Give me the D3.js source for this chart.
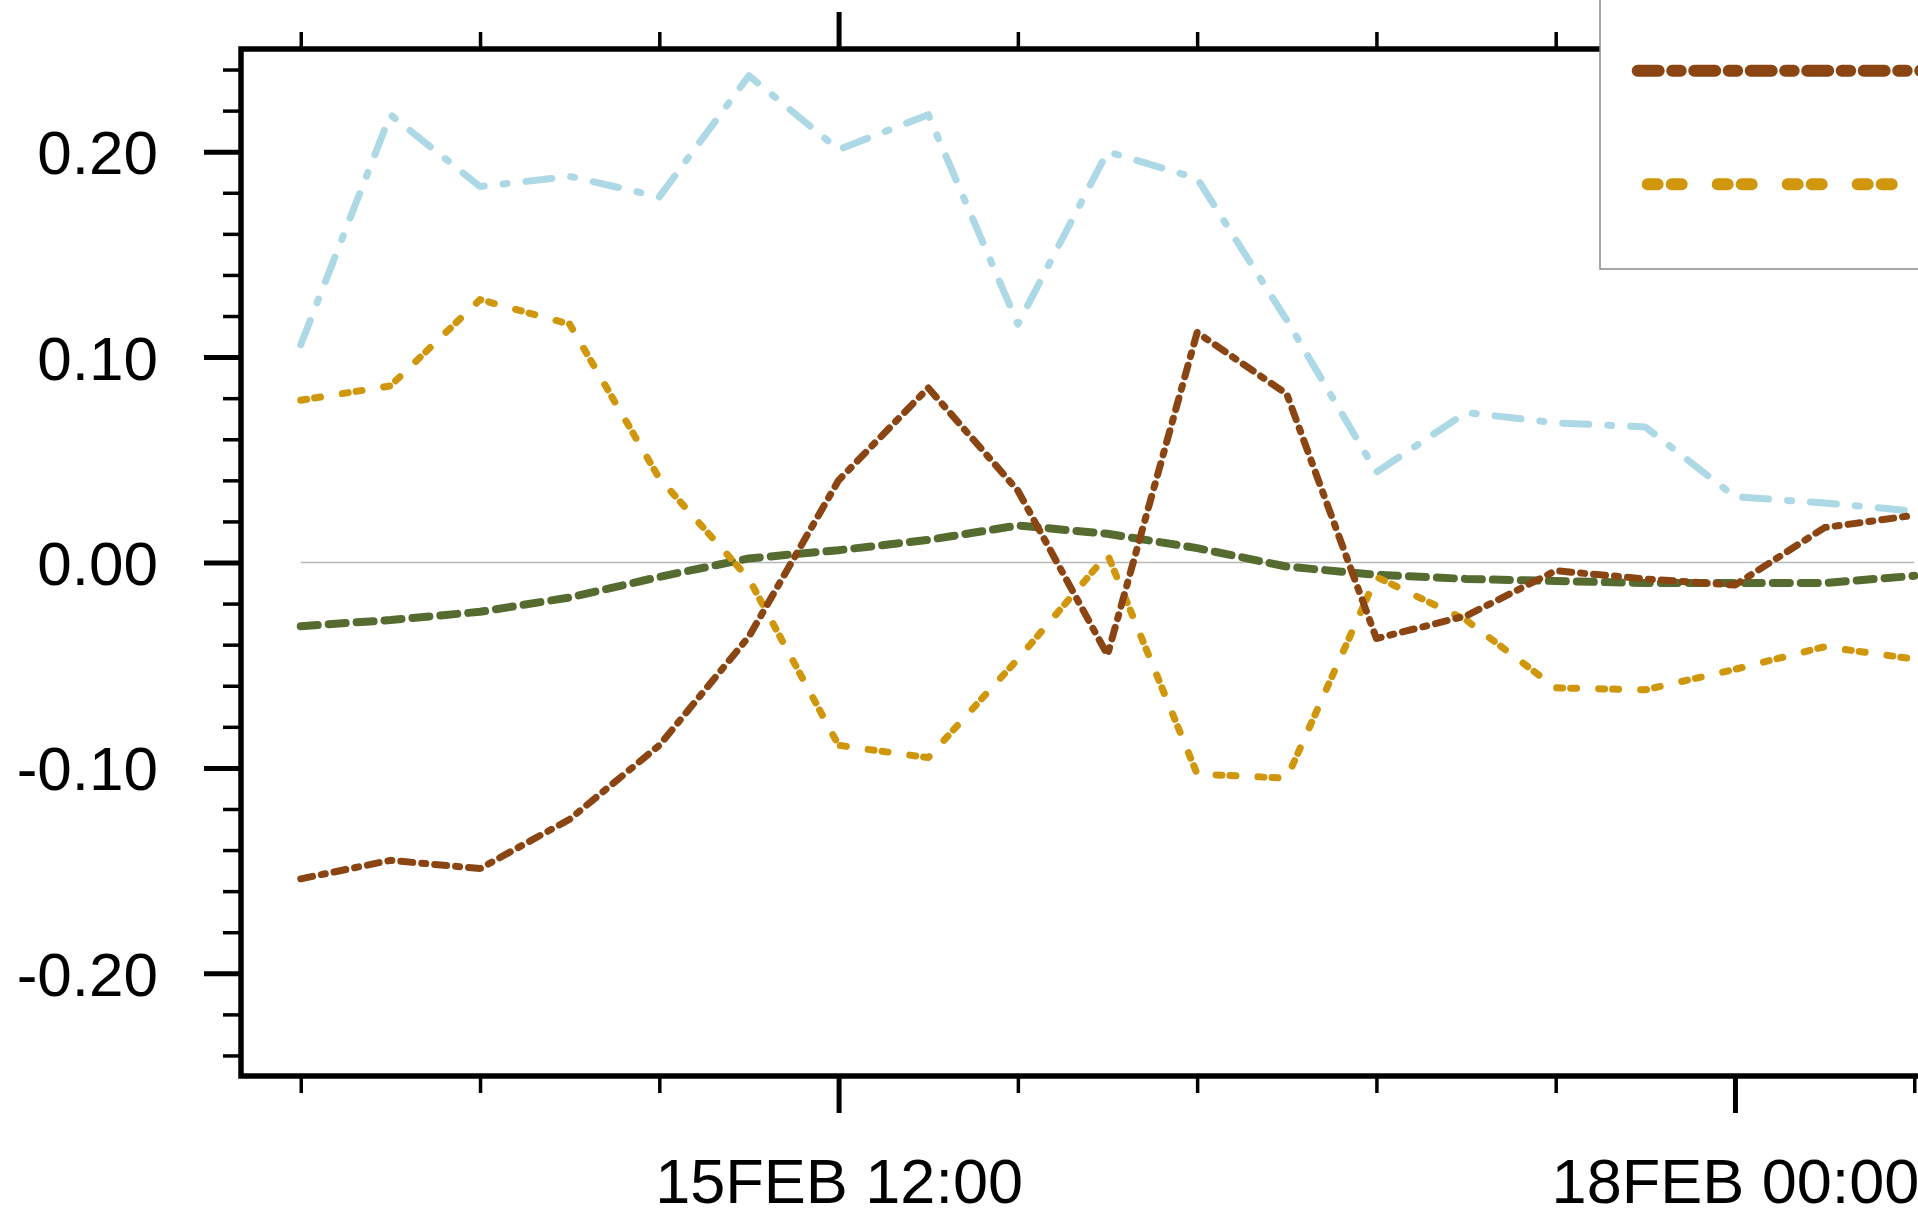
<!DOCTYPE html>
<html><head><meta charset="utf-8">
<script src="https://cdn.jsdelivr.net/npm/d3@7"></script>
<style>html,body{margin:0;padding:0;background:#fff;overflow:hidden}svg{display:block}</style>
</head><body><svg id="chart" width="1918" height="1215"></svg>
<script>
// ---- data ----
const times = [
  "2000-02-14T00:00Z","2000-02-14T06:00Z","2000-02-14T12:00Z","2000-02-14T18:00Z",
  "2000-02-15T00:00Z","2000-02-15T06:00Z","2000-02-15T12:00Z","2000-02-15T18:00Z",
  "2000-02-16T00:00Z","2000-02-16T06:00Z","2000-02-16T12:00Z","2000-02-16T18:00Z",
  "2000-02-17T00:00Z","2000-02-17T06:00Z","2000-02-17T12:00Z","2000-02-17T18:00Z",
  "2000-02-18T00:00Z","2000-02-18T06:00Z","2000-02-18T12:00Z"
];
const seriesBlue  = [0.106,0.218,0.183,0.188,0.178,0.237,0.201,0.218,0.116,0.200,0.187,0.118,0.044,0.073,0.068,0.066,0.032,0.029,0.025];
const seriesGreen = [-0.031,-0.028,-0.024,-0.017,-0.007,0.002,0.006,0.011,0.018,0.014,0.007,-0.002,-0.006,-0.008,-0.009,-0.010,-0.010,-0.010,-0.0065];
const seriesGold  = [0.079,0.086,0.128,0.116,0.041,-0.008,-0.089,-0.095,-0.047,0.004,-0.103,-0.105,-0.007,-0.028,-0.061,-0.062,-0.052,-0.041,-0.047];
const seriesBrown = [-0.154,-0.145,-0.149,-0.125,-0.089,-0.036,0.040,0.085,0.035,-0.045,0.112,0.082,-0.037,-0.026,-0.004,-0.008,-0.011,0.017,0.023];

const yMajorTicks = [-0.2,-0.1,0,0.1,0.2];
const yTickLabels = ["-0.20","-0.10","0.00","0.10","0.20"];
const yMinorTicks = [-0.24,-0.22,-0.18,-0.16,-0.14,-0.12,-0.08,-0.06,-0.04,-0.02,0.02,0.04,0.06,0.08,0.12,0.14,0.16,0.18,0.22,0.24];
const xMajorTicks = ["2000-02-15T12:00Z","2000-02-18T00:00Z"];
const xTickLabels = ["15FEB 12:00","18FEB 00:00"];
const xMinorTicks = ["2000-02-14T00:00Z","2000-02-14T12:00Z","2000-02-15T00:00Z","2000-02-16T00:00Z",
  "2000-02-16T12:00Z","2000-02-17T00:00Z","2000-02-17T12:00Z","2000-02-18T12:00Z"];
const xDomain = ["2000-02-13T20:00Z","2000-02-18T16:00Z"];
const yDomain = [-0.25,0.25];

// ---- chart ----
const svg = d3.select("#chart");
const L = 241, T = 49, R = 1974, B = 1076;
const x = d3.scaleUtc().domain(xDomain.map(d=>new Date(d))).range([L,R]);
const y = d3.scaleLinear().domain(yDomain).range([B,T]);
const tDates = times.map(d=>new Date(d));
const FONT = "'Liberation Sans', Arial, Helvetica, sans-serif";

// zero reference line
svg.append("line")
  .attr("x1", x(tDates[0])).attr("x2", x(tDates[tDates.length-1]))
  .attr("y1", y(0)).attr("y2", y(0))
  .attr("stroke","#b8b8b8").attr("stroke-width",1.6);

// series
const series = [
  {v: seriesBlue,  color:"#ADD8E6", w:7, dash:"26,19,4,19"},
  {v: seriesGreen, color:"#556B2F", w:8, dash:"17,11"},
  {v: seriesGold,  color:"#D0960C", w:7, dash:"6,8,6,22"},
  {v: seriesBrown, color:"#8B4513", w:7, dash:"12,9,4,9"}
];
const line = d3.line().x((d,i)=>x(tDates[i])).y(d=>y(d));
series.forEach(s=>{
  svg.append("path").datum(s.v).attr("d", line)
    .attr("fill","none").attr("stroke", s.color).attr("stroke-width", s.w)
    .attr("stroke-dasharray", s.dash).attr("stroke-linecap","round").attr("stroke-linejoin","round");
});

// axes
function styleAxis(g, tw){
  g.select(".domain").remove();
  g.selectAll(".tick line").attr("stroke","#000").attr("stroke-width", tw);
  g.selectAll(".tick text").attr("fill","#000").style("font-family", FONT).style("font-size","62px");
}
const gyMinor = svg.append("g").attr("transform",`translate(${L},0)`)
  .call(d3.axisLeft(y).tickValues(yMinorTicks).tickSize(18).tickFormat(""));
styleAxis(gyMinor, 3.5);
const gyMajor = svg.append("g").attr("transform",`translate(${L},0)`)
  .call(d3.axisLeft(y).tickValues(yMajorTicks).tickSize(37).tickPadding(46)
    .tickFormat((d,i)=>yTickLabels[i]));
styleAxis(gyMajor, 5);
gyMajor.selectAll(".tick text").attr("dy","0.355em");

const xMin = xMinorTicks.map(d=>new Date(d));
const xMaj = xMajorTicks.map(d=>new Date(d));
const gxMinor = svg.append("g").attr("transform",`translate(0,${B})`)
  .call(d3.axisBottom(x).tickValues(xMin).tickSize(17).tickFormat(""));
styleAxis(gxMinor, 3.5);
const gxMajor = svg.append("g").attr("transform",`translate(0,${B})`)
  .call(d3.axisBottom(x).tickValues(xMaj).tickSize(37).tickPadding(45)
    .tickFormat((d,i)=>xTickLabels[i]));
styleAxis(gxMajor, 5);
gxMajor.selectAll(".tick text").attr("dy","0.71em").style("font-size","63px");

const gtMinor = svg.append("g").attr("transform",`translate(0,${T})`)
  .call(d3.axisTop(x).tickValues(xMin).tickSize(17).tickFormat(""));
styleAxis(gtMinor, 3.5);
const gtMajor = svg.append("g").attr("transform",`translate(0,${T})`)
  .call(d3.axisTop(x).tickValues(xMaj).tickSize(37).tickFormat(""));
styleAxis(gtMajor, 5);

// frame
svg.append("rect").attr("x",L).attr("y",T).attr("width",R-L).attr("height",B-T)
  .attr("fill","none").attr("stroke","#000").attr("stroke-width",5.5);

// legend (partly outside the visible area, as in the reference)
const lg = svg.append("g");
lg.append("rect").attr("x",1600).attr("y",-30).attr("width",420).attr("height",299)
  .attr("fill","#fff").attr("stroke","#8a8a8a").attr("stroke-width",1.5);
const legendItems = [
  {color:"#8B4513", y:70.7, x0:1637.7, dash:"21,13.5,8.5,13.5"},
  {color:"#D0960C", y:184.3, x0:1647.7, dash:"10,14,10,36"}
];
legendItems.forEach(it=>{
  lg.append("line").attr("x1",it.x0).attr("x2",2010).attr("y1",it.y).attr("y2",it.y)
    .attr("stroke",it.color).attr("stroke-width",12).attr("stroke-linecap","round")
    .attr("stroke-dasharray",it.dash);
});
</script></body></html>
